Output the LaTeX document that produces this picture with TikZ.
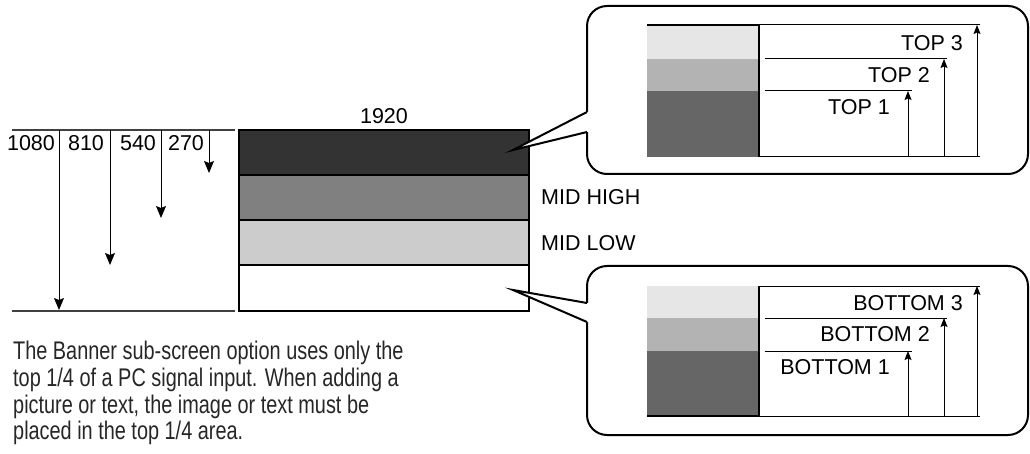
\documentclass[tikz,border=0pt]{standalone}
\usepackage{fontspec}
\setmainfont{Liberation Sans}
\newfontfamily\bodyfont[FakeStretch=0.78]{Liberation Sans}
\usepackage{xcolor}
\usepackage{tikz}
\usetikzlibrary{arrows.meta, positioning, calc}
\definecolor{bandtop}{RGB}{51,51,51}
\definecolor{bandhigh}{RGB}{128,128,128}
\definecolor{bandlow}{RGB}{204,204,204}
\definecolor{zoomlight}{RGB}{230,230,230}
\definecolor{zoommid}{RGB}{179,179,179}
\definecolor{zoomdark}{RGB}{102,102,102}
\newcommand{\lblsize}{\fontsize{21.5}{24}\selectfont}

\begin{document}
\begin{tikzpicture}[
  x=1pt, y=-1pt,
  font=\lblsize,
  lbl/.style={inner sep=0pt},
  dimline/.style={draw=black!75, line width=1.2pt},
  down/.style={-{Stealth[length=12pt, width=10pt, inset=2pt]}, line width=1pt},
  up/.style={-{Stealth[length=9pt, width=7pt, inset=1.5pt]}, line width=1pt},
  thin/.style={line width=1pt},
  thick/.style={line width=2.2pt},
  callout/.style={draw, line width=2pt, rounded corners=20pt}
]
\useasboundingbox (0,0) rectangle (1030,454);

% ---------- screen with four bands ----------
\fill[bandtop]  (239,130) rectangle (529,175);
\fill[bandhigh] (239,175) rectangle (529,220);
\fill[bandlow]  (239,220) rectangle (529,265);
\fill[white]    (239,265) rectangle (529,311);
\foreach \y in {175,220,265}
  {\draw[line width=2pt] (239,\y) -- (529,\y);}
\draw[line width=2.5pt] (239,130) rectangle (529,311);

\node[lbl] (w1920) at (384,116) {1920};
\node[lbl, anchor=west] (midhigh) at (541,197) {MID HIGH};
\node[lbl, anchor=west] (midlow) at (541,243) {MID LOW};

% ---------- vertical sizes ----------
\draw[dimline] (12,130) -- (235,130);
\draw[dimline] (12,311) -- (235,311);
\foreach \x/\e/\n in {59/310/a1080, 110/265/a810, 161/218/a540, 209/173/a270}
  {\coordinate (\n s) at (\x,130); \coordinate (\n e) at (\x,\e);
   \draw[down] (\n s) -- (\n e);}
\node[lbl] (l1080) at (31,143) {1080};
\node[lbl] (l810) at (86,143) {810};
\node[lbl] (l540) at (138,143) {540};
\node[lbl] (l270) at (186,143) {270};

% ---------- callout: top ----------
\draw[callout] (587,6) rectangle (1028,174);
\fill[white] (584,112) -- (513,150) -- (584,132) -- (590,132) -- (590,112) -- cycle;
\draw[line width=2pt] (587,112) -- (513,150) -- (587,132);
\fill[zoomlight] (647,25) rectangle (759,59);
\fill[zoommid]   (647,59) rectangle (759,91);
\fill[zoomdark]  (647,91) rectangle (759,157);
\draw[thick] (647,25) -- (759,25) -- (759,157);
\draw[thin] (759,25) -- (980,25);
\draw[thin] (759,157) -- (980,157);
\draw[thin] (765,59) -- (947,59);
\draw[thin] (765,91) -- (912,91);
\foreach \x/\e/\n in {908/91/t1, 944/59/t2, 977/25/t3}
  {\coordinate (\n s) at (\x,157); \coordinate (\n e) at (\x,\e);
   \draw[up] (\n s) -- (\n e);}
\node[lbl, anchor=east] (top3) at (963,43) {TOP 3};
\node[lbl, anchor=east] (top2) at (930,75) {TOP 2};
\node[lbl, anchor=east] (top1) at (890,107) {TOP 1};

% ---------- callout: bottom ----------
\draw[callout] (587,266) rectangle (1028,435);
\fill[white] (584,303) -- (513,290) -- (584,322) -- (590,322) -- (590,303) -- cycle;
\draw[line width=2pt] (587,303) -- (513,290) -- (587,322);
\fill[zoomlight] (647,286) rectangle (759,318);
\fill[zoommid]   (647,318) rectangle (759,351);
\fill[zoomdark]  (647,351) rectangle (759,416);
\draw[thick] (647,416) -- (759,416) -- (759,286);
\draw[thin] (759,286) -- (980,286);
\draw[thin] (759,416) -- (980,416);
\draw[thin] (765,318) -- (947,318);
\draw[thin] (765,351) -- (912,351);
\foreach \x/\e/\n in {908/351/b1, 944/318/b2, 977/286/b3}
  {\coordinate (\n s) at (\x,416); \coordinate (\n e) at (\x,\e);
   \draw[up] (\n s) -- (\n e);}
\node[lbl, anchor=east] (bot3) at (963,303) {BOTTOM 3};
\node[lbl, anchor=east] (bot2) at (930,334) {BOTTOM 2};
\node[lbl, anchor=east] (bot1) at (890,367) {BOTTOM 1};

% ---------- note ----------
\node[lbl, anchor=north west, align=left, font=\bodyfont\fontsize{25.5}{26.7}\selectfont,
      text=black!85] (note) at (13,341)
  {The Banner sub-screen option uses only the\\
   top 1/4 of a PC signal input. When adding a\\
   picture or text, the image or text must be\\
   placed in the top 1/4 area.};

\end{tikzpicture}
\end{document}
